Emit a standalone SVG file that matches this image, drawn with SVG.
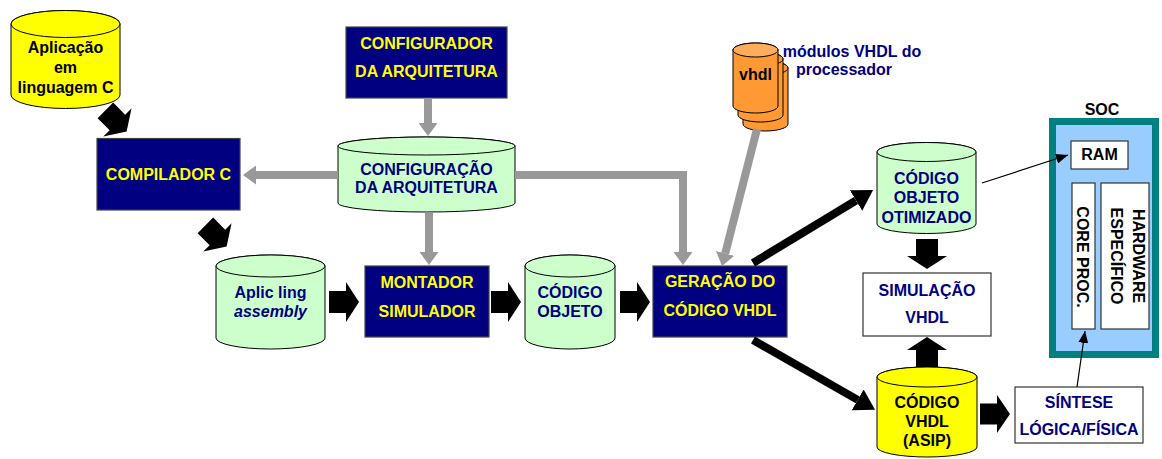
<svg xmlns="http://www.w3.org/2000/svg" width="1162" height="459" viewBox="0 0 1162 459">
<style>
text{font-family:"Liberation Sans",Arial,sans-serif;font-weight:bold;font-size:16px;text-anchor:middle}
.navybox{fill:#000080;stroke:#444;stroke-width:1.2}
.whitebox{fill:#fff;stroke:#333;stroke-width:1.2}
.cyl{stroke:#000;stroke-width:1}
.green{fill:#ccffcc}
.yellow{fill:#ffff00}
.orange{fill:#ff9933}
.yt{fill:#ffff00}
.nt{fill:#000080}
.bt{fill:#000}
.gray{fill:none;stroke:#999;stroke-width:8}
.thick{fill:none;stroke:#000;stroke-width:8}
.thin{fill:none;stroke:#000;stroke-width:1.2}
.fat{fill:#000}
</style>
<defs>
<marker id="gh" markerUnits="userSpaceOnUse" markerWidth="13" markerHeight="19" viewBox="0 0 13 19" refX="0" refY="9.5" orient="auto"><path d="M0,0 L13,9.5 L0,19 Z" fill="#999"/></marker>
<marker id="bh" markerUnits="userSpaceOnUse" markerWidth="20" markerHeight="24" viewBox="0 0 20 24" refX="0" refY="12" orient="auto"><path d="M0,0 L20,12 L0,24 Z" fill="#000"/></marker>
<marker id="th" markerUnits="userSpaceOnUse" markerWidth="12" markerHeight="10" viewBox="0 0 12 10" refX="12" refY="5" orient="auto"><path d="M0,0 L12,5 L0,10 Z" fill="#000"/></marker>
<path id="fa" d="M-15,-11 H2 V-20 L15,0 L2,20 V11 H-15 Z"/>
</defs>

<g id="aplicacao">
<path class="cyl yellow" d="M11,24 A54.5,13.5 0 0 1 120,24 V95 A54.5,13.5 0 0 1 11,95 Z"/>
<ellipse class="cyl yellow" cx="65.5" cy="24" rx="54.5" ry="13.5"/>
<text class="bt" x="65.5" y="53">Aplicação</text>
<text class="bt" x="65.5" y="73">em</text>
<text class="bt" x="65.5" y="93">linguagem C</text>
</g>

<g id="compilador">
<rect class="navybox" x="97" y="138.5" width="143" height="71.5"/>
<text class="yt" x="168.5" y="180">COMPILADOR C</text>
</g>

<g id="configurador">
<rect class="navybox" x="346" y="27" width="161" height="71"/>
<text class="yt" x="426.5" y="49">CONFIGURADOR</text>
<text class="yt" x="426.5" y="77">DA ARQUITETURA</text>
</g>

<g id="configuracao">
<path class="cyl green" d="M338,146 A88.5,9 0 0 1 515,146 V203 A88.5,9 0 0 1 338,203 Z"/>
<ellipse class="cyl green" cx="426.5" cy="146" rx="88.5" ry="9"/>
<text class="nt" x="426.5" y="175">CONFIGURAÇÃO</text>
<text class="nt" x="426.5" y="193">DA ARQUITETURA</text>
</g>

<g id="aplicling">
<path class="cyl green" d="M216,266 A54.5,11 0 0 1 325,266 V338 A54.5,11 0 0 1 216,338 Z"/>
<ellipse class="cyl green" cx="270.5" cy="266" rx="54.5" ry="11"/>
<text class="nt" x="270.5" y="298">Aplic ling</text>
<text class="nt" x="270.5" y="317" font-style="italic">assembly</text>
</g>

<g id="montador">
<rect class="navybox" x="365" y="266" width="124" height="71"/>
<text class="yt" x="427" y="288">MONTADOR</text>
<text class="yt" x="427" y="317">SIMULADOR</text>
</g>

<g id="codigoobjeto">
<path class="cyl green" d="M525,266 A45,11 0 0 1 615,266 V338 A45,11 0 0 1 525,338 Z"/>
<ellipse class="cyl green" cx="570" cy="266" rx="45" ry="11"/>
<text class="nt" x="570" y="298">CÓDIGO</text>
<text class="nt" x="570" y="317">OBJETO</text>
</g>

<g id="geracao">
<rect class="navybox" x="653" y="266" width="134" height="71"/>
<text class="yt" x="720" y="287">GERAÇÃO DO</text>
<text class="yt" x="720" y="316">CÓDIGO VHDL</text>
</g>

<g id="vhdl">
<path class="cyl orange" d="M743,68 A22.5,7 0 0 1 788,68 V124 A22.5,7 0 0 1 743,124 Z"/>
<ellipse class="cyl orange" cx="765.5" cy="68" rx="22.5" ry="7"/>
<path class="cyl orange" d="M738,59 A22.5,7 0 0 1 783,59 V115 A22.5,7 0 0 1 738,115 Z"/>
<ellipse class="cyl orange" cx="760.5" cy="59" rx="22.5" ry="7"/>
<path class="cyl orange" d="M733,50 A22.5,7 0 0 1 778,50 V106 A22.5,7 0 0 1 733,106 Z"/>
<ellipse class="cyl" fill="#ffad5c" cx="755.5" cy="50" rx="22.5" ry="7"/>
<text class="bt" x="755.5" y="80">vhdl</text>
</g>

<g id="modulos">
<text class="nt" x="852" y="57">módulos VHDL do</text>
<text class="nt" x="844" y="75">processador</text>
</g>

<g id="otimizado">
<path class="cyl green" d="M877,152 A49.5,9.5 0 0 1 976,152 V224 A49.5,9.5 0 0 1 877,224 Z"/>
<ellipse class="cyl green" cx="926.5" cy="152" rx="49.5" ry="9.5"/>
<text class="nt" x="926.5" y="184">CÓDIGO</text>
<text class="nt" x="926.5" y="203">OBJETO</text>
<text class="nt" x="926.5" y="223">OTIMIZADO</text>
</g>

<g id="simulacao">
<rect class="whitebox" x="863" y="273" width="128" height="63"/>
<text class="nt" x="927" y="296">SIMULAÇÃO</text>
<text class="nt" x="927" y="323">VHDL</text>
</g>

<g id="asip">
<path class="cyl yellow" d="M877,377 A50,10 0 0 1 977,377 V447 A50,10 0 0 1 877,447 Z"/>
<ellipse class="cyl yellow" cx="927" cy="377" rx="50" ry="10"/>
<text class="bt" x="927" y="408">CÓDIGO</text>
<text class="bt" x="927" y="427">VHDL</text>
<text class="bt" x="927" y="446">(ASIP)</text>
</g>

<g id="sintese">
<rect class="whitebox" x="1015" y="387" width="128" height="56"/>
<text class="nt" x="1079" y="408">SÍNTESE</text>
<text class="nt" x="1079" y="435">LÓGICA/FÍSICA</text>
</g>

<g id="soc">
<text class="bt" x="1102" y="115">SOC</text>
<rect x="1052.5" y="121.5" width="103" height="233" fill="#99ccff" stroke="#008080" stroke-width="7"/>
<rect class="whitebox" x="1071" y="141" width="57" height="28"/>
<text class="bt" x="1099.5" y="160">RAM</text>
<rect class="whitebox" x="1072" y="183" width="23" height="146"/>
<text class="bt" transform="translate(1077,257) rotate(90)">CORE PROC.</text>
<rect class="whitebox" x="1101" y="183" width="48" height="146"/>
<text class="bt" transform="translate(1133,256) rotate(90)">HARDWARE</text>
<text class="bt" transform="translate(1111,256) rotate(90)">ESPECÍFICO</text>
</g>

<g id="connectors">
<line class="gray" x1="338" y1="175" x2="256" y2="175" marker-end="url(#gh)"/>
<line class="gray" x1="428" y1="98.6" x2="428" y2="123" marker-end="url(#gh)"/>
<line class="gray" x1="429" y1="212.5" x2="429" y2="252" marker-end="url(#gh)"/>
<polyline class="gray" points="515,175 683,175 683,252" marker-end="url(#gh)"/>
<line class="gray" x1="757" y1="129" x2="725.2" y2="253.4" marker-end="url(#gh)"/>
<line class="thick" x1="753" y1="263" x2="856" y2="200.5" marker-end="url(#bh)"/>
<line class="thick" x1="753" y1="340" x2="857.7" y2="399.9" marker-end="url(#bh)"/>
<line class="thin" x1="982" y1="183" x2="1068" y2="155" marker-end="url(#th)"/>
<line class="thin" x1="1077" y1="387" x2="1085" y2="331" marker-end="url(#th)"/>
<use href="#fa" class="fat" transform="translate(116,121) rotate(45)"/>
<use href="#fa" class="fat" transform="translate(216,236) rotate(45)"/>
<use href="#fa" class="fat" transform="translate(344,302)"/>
<use href="#fa" class="fat" transform="translate(506,302)"/>
<use href="#fa" class="fat" transform="translate(635,302)"/>
<use href="#fa" class="fat" transform="translate(927,254) rotate(90)"/>
<use href="#fa" class="fat" transform="translate(927,352) rotate(-90)"/>
<use href="#fa" class="fat" transform="translate(995,414) scale(1,0.95)"/>
</g>
</svg>
